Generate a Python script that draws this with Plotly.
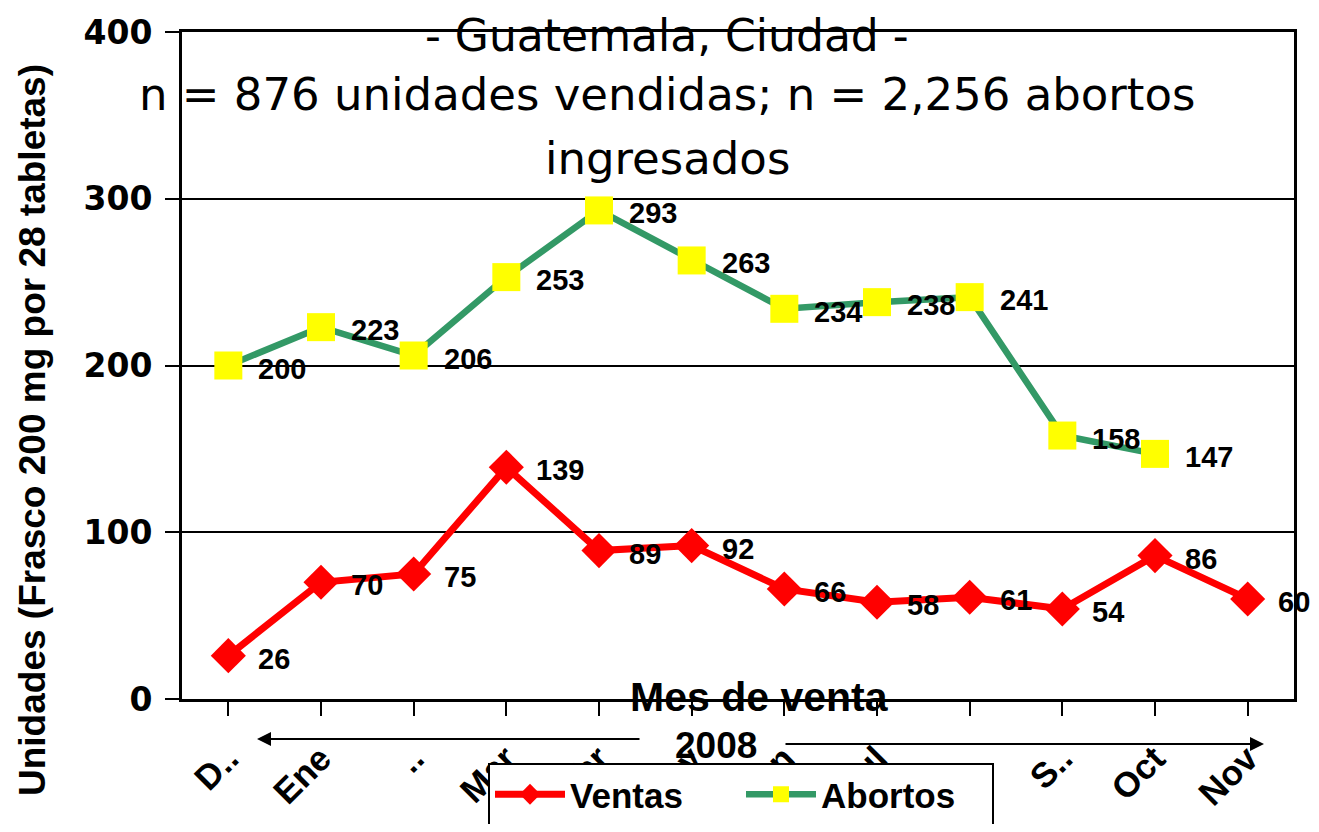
import plotly.graph_objects as go

# Datos
meses = ["D..", "Ene", "..", "Mar", "Abr", "May", "Jun", "Jul", "", "S..", "Oct", "Nov"]
ventas = [26, 70, 75, 139, 89, 92, 66, 58, 61, 54, 86, 60]
abortos = [200, 223, 206, 253, 293, 263, 234, 238, 241, 158, 147, None]

x_idx = list(range(len(meses)))
ROJO = "#FF0000"
VERDE = "#339966"
AMARILLO = "#FFFF00"

# área de trazado en píxeles de la página (la página tiene margen de 8 px)
OFF = 8
X0, X1, Y0, Y1 = 182, 1294, 32, 699
PW, PH = X1 - X0, Y1 - Y0
W, H = 1319 - 2 * OFF, 832 - 2 * OFF


def px(x):
    return (x - X0) / PW


def py(y):
    return (Y1 - y) / PH


fig = go.Figure()

fig.add_trace(go.Scatter(
    x=x_idx, y=ventas, name="Ventas",
    mode="lines+markers",
    line=dict(color=ROJO, width=7),
    marker=dict(symbol="diamond", size=27, color=ROJO),
))

fig.add_trace(go.Scatter(
    x=x_idx, y=abortos, name="Abortos",
    mode="lines+markers",
    line=dict(color=VERDE, width=6.5),
    marker=dict(symbol="square", size=28, color=AMARILLO),
))

# Etiquetas de datos a la derecha de cada punto
etiquetas = []
for serie in (ventas, abortos):
    for i, v in enumerate(serie):
        if v is None:
            continue
        etiquetas.append(dict(
            x=i, y=v, text=str(v), showarrow=False,
            xanchor="left", yanchor="middle", xshift=28, yshift=-3,
            font=dict(family="Liberation Sans", size=29, color="black", weight="bold"),
        ))

fuente_titulo = dict(family="DejaVu Sans", size=45, color="black")
titulos = [
    dict(text="- Guatemala, Ciudad -", x=px(667), y=py(OFF), yanchor="top",
         font=dict(family="DejaVu Sans", size=44, color="black")),
    dict(text="n = 876 unidades vendidas; n = 2,256 abortos", x=px(667), y=py(95)),
    dict(text="ingresados", x=px(667), y=py(158)),
]
for t in titulos:
    t.setdefault("yanchor", "middle")
    t.setdefault("font", fuente_titulo)
    t.update(xref="paper", yref="paper", showarrow=False, xanchor="center")

otros = [
    dict(text="Unidades (Frasco 200 mg por 28 tabletas)", xref="paper", yref="paper",
         x=px(33), y=py(430), textangle=-90, showarrow=False,
         xanchor="center", yanchor="middle",
         font=dict(family="Liberation Sans", size=37, color="black", weight="bold")),
    dict(text="Mes de venta", xref="paper", yref="paper",
         x=px(759), y=py(697), showarrow=False,
         xanchor="center", yanchor="middle",
         font=dict(family="Liberation Sans", size=41, color="black", weight="bold")),
    dict(text="2008", xref="paper", yref="paper",
         x=px(716), y=py(745), showarrow=False,
         xanchor="center", yanchor="middle",
         font=dict(family="Liberation Sans", size=37, color="black", weight="bold")),
    # flechas
    dict(text="", xref="paper", yref="paper",
         x=px(257), y=py(739), ax=384, ay=0,
         showarrow=True, arrowhead=2, arrowsize=1.4, arrowwidth=2, arrowcolor="black"),
    dict(text="", xref="paper", yref="paper",
         x=px(1264), y=py(744), ax=-480, ay=0,
         showarrow=True, arrowhead=2, arrowsize=1.4, arrowwidth=2, arrowcolor="black"),
]

fig.update_layout(
    width=W, height=H,
    margin=dict(l=X0 - OFF, r=W - (X1 - OFF), t=Y0 - OFF, b=H - (Y1 - OFF)),
    plot_bgcolor="white", paper_bgcolor="white",
    annotations=titulos + otros + etiquetas,
    showlegend=True,
    legend=dict(
        orientation="h", x=px(488), xanchor="left",
        yref="container", y=(H - (763 - OFF)) / H, yanchor="top",
        bordercolor="black", borderwidth=2, bgcolor="white",
        font=dict(family="Liberation Sans", size=35, color="black", weight="bold"),
        itemwidth=70, entrywidth=166,
    ),
)

fig.update_xaxes(
    range=[-0.5, len(meses) - 0.5], automargin=False,
    tickmode="array", tickvals=x_idx, ticktext=meses,
    tickson="boundaries", ticks="outside", ticklen=14, tickwidth=2, tickcolor="black",
    tickangle=-45, ticklabelstandoff=8,
    tickfont=dict(family="Liberation Sans", size=35, color="black", weight="bold"),
    showline=True, linecolor="black", linewidth=3, mirror=True,
    showgrid=False, zeroline=False,
)

fig.update_yaxes(
    range=[0, 400], tickvals=[0, 100, 200, 300, 400], automargin=False,
    ticks="outside", ticklen=14, tickwidth=2, tickcolor="black",
    tickfont=dict(family="DejaVu Sans", size=33, color="black", weight="bold"),
    ticklabelstandoff=6,
    showline=True, linecolor="black", linewidth=3, mirror=True,
    showgrid=True, gridcolor="black", gridwidth=2, zeroline=False,
)

fig.write_html("out.html")
